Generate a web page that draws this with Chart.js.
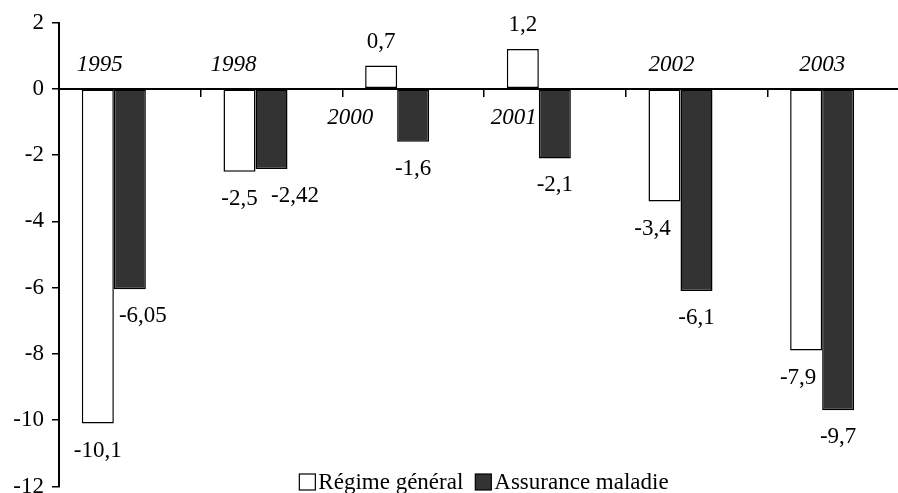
<!DOCTYPE html>
<html>
<head>
<meta charset="utf-8">
<script src="https://cdn.jsdelivr.net/npm/chart.js@4/dist/chart.umd.min.js"></script>
<style>
  html, body { margin: 0; padding: 0; background: #fff; overflow: hidden; }
  canvas { display: block; }
</style>
</head>
<body>
<canvas id="c" width="910" height="500"></canvas>
<script>
// Years on the category axis
const categories = ['1995', '1998', '2000', '2001', '2002', '2003'];
// Balances (Md€) for each branch
const regimeGeneral = [-10.1, -2.5, 0.7, 1.2, -3.4, -7.9];
const assuranceMaladie = [-6.05, -2.42, -1.6, -2.1, -6.1, -9.7];
// Value axis range and step
const axisMin = -12;
const axisMax = 2;
const axisStep = 2;

const SERIF = '"Liberation Serif", "Times New Roman", Times, serif';

// Writes each bar's value (French decimal comma) just beyond the bar's end
const valueLabels = {
  id: 'valueLabels',
  afterDatasetsDraw(chart, args, opts) {
    const ctx = chart.ctx;
    ctx.save();
    ctx.font = opts.size + 'px ' + SERIF;
    ctx.fillStyle = '#000';
    ctx.textAlign = 'center';
    ctx.textBaseline = 'middle';
    opts.series.forEach((si) => {
      const meta = chart.getDatasetMeta(si);
      const values = chart.data.datasets[si].data;
      const shifts = opts.shift[si] || [];
      meta.data.forEach((bar, i) => {
        const v = values[i];
        if (v == null) return;
        const x = bar.x + (shifts[i] || 0);
        const y = v < 0 ? bar.y + opts.below : bar.y - opts.above;
        ctx.fillText(String(v).replace('.', ','), x, y);
      });
    });
    ctx.restore();
  }
};

// Italic year labels sitting next to the zero line, on the side away from the bars
const yearLabels = {
  id: 'yearLabels',
  afterDatasetsDraw(chart, args, opts) {
    const ctx = chart.ctx;
    const xs = chart.scales.x;
    const y0 = chart.scales.y.getPixelForValue(0);
    ctx.save();
    ctx.font = 'italic ' + opts.size + 'px ' + SERIF;
    ctx.fillStyle = '#000';
    ctx.textAlign = 'center';
    ctx.textBaseline = 'middle';
    chart.data.labels.forEach((lab, i) => {
      const anyUp = chart.data.datasets.some(d => d.data[i] != null && d.data[i] > 0);
      const x = xs.getPixelForValue(i) + (opts.shift[i] || 0);
      const y = anyUp ? y0 + opts.below : y0 - opts.above;
      ctx.fillText(lab, x, y);
    });
    ctx.restore();
  }
};

// Legend drawn inside the plot, centred along the bottom
const boxLegend = {
  id: 'boxLegend',
  afterDraw(chart, args, opts) {
    const ctx = chart.ctx;
    const items = chart.data.datasets.filter(d => d.label);
    ctx.save();
    ctx.font = opts.size + 'px ' + SERIF;
    const widths = items.map(d => ctx.measureText(d.label).width);
    let total = 0;
    items.forEach((d, i) => { total += opts.box + opts.gap + widths[i]; });
    total += opts.spacing * (items.length - 1);
    const area = chart.chartArea;
    let x = (area.left + area.right) / 2 - total / 2;
    const yc = area.bottom - opts.lift;
    items.forEach((d, i) => {
      ctx.fillStyle = d.backgroundColor;
      ctx.fillRect(x, yc - opts.box / 2, opts.box, opts.box);
      ctx.lineWidth = 1.2;
      ctx.strokeStyle = '#000';
      ctx.strokeRect(x, yc - opts.box / 2, opts.box, opts.box);
      ctx.fillStyle = '#000';
      ctx.textAlign = 'left';
      ctx.textBaseline = 'middle';
      ctx.fillText(d.label, x + opts.box + opts.gap, yc + 1);
      x += opts.box + opts.gap + widths[i] + opts.spacing;
    });
    ctx.restore();
  }
};

new Chart(document.getElementById('c'), {
  type: 'bar',
  data: {
    labels: categories,
    datasets: [
      {
        label: 'Régime général',
        data: regimeGeneral,
        backgroundColor: '#ffffff',
        borderColor: '#000000',
        borderWidth: 1.5,
        borderSkipped: false
      },
      {
        label: 'Assurance maladie',
        data: assuranceMaladie,
        backgroundColor: '#333333',
        borderColor: '#000000',
        borderWidth: 1.5,
        borderSkipped: false
      },
      {
        // empty third slot: keeps each pair of bars left of the year centre
        label: '',
        data: categories.map(() => null),
        backgroundColor: 'rgba(0,0,0,0)'
      }
    ]
  },
  options: {
    responsive: false,
    animation: false,
    events: [],
    categoryPercentage: 0.678,
    barPercentage: 1.0,
    layout: { padding: { top: 22.5, bottom: 13.5, left: 0, right: 1 } },
    plugins: {
      legend: { display: false },
      tooltip: { enabled: false },
      valueLabels: {
        size: 23,
        series: [0, 1],
        below: 27,
        above: 24,
        shift: { 0: [0, 0, 0, 0, -12, -8], 1: [13, 23.5, 0, 0, 0, 0] }
      },
      yearLabels: {
        size: 23,
        above: 24,
        below: 29,
        shift: [-30, -38, -63, -41, -25, -16]
      },
      boxLegend: { size: 23, box: 16, gap: 3, spacing: 12, lift: 4.5 }
    },
    scales: {
      x: {
        position: { y: 0 },
        grid: {
          display: true,
          drawOnChartArea: false,
          drawTicks: true,
          tickLength: 7,
          color: '#000',
          lineWidth: 1.5,
          offset: true
        },
        border: { display: true, color: '#000', width: 2 },
        ticks: { display: false },
        afterFit(scale) {
          scale.height = 0;
          scale.paddingLeft = scale.paddingRight = 0;
          scale.paddingTop = scale.paddingBottom = 0;
        }
      },
      y: {
        min: axisMin,
        max: axisMax,
        ticks: {
          stepSize: axisStep,
          color: '#000',
          padding: 8,
          font: { size: 23, family: SERIF }
        },
        grid: {
          drawOnChartArea: false,
          drawTicks: true,
          tickLength: 7,
          color: '#000',
          lineWidth: 1.5
        },
        border: { display: true, color: '#000', width: 2 },
        afterFit(scale) {
          scale.width = 59;
          scale.paddingTop = scale.paddingBottom = 0;
        }
      }
    }
  },
  plugins: [valueLabels, yearLabels, boxLegend]
});
</script>
</body>
</html>
